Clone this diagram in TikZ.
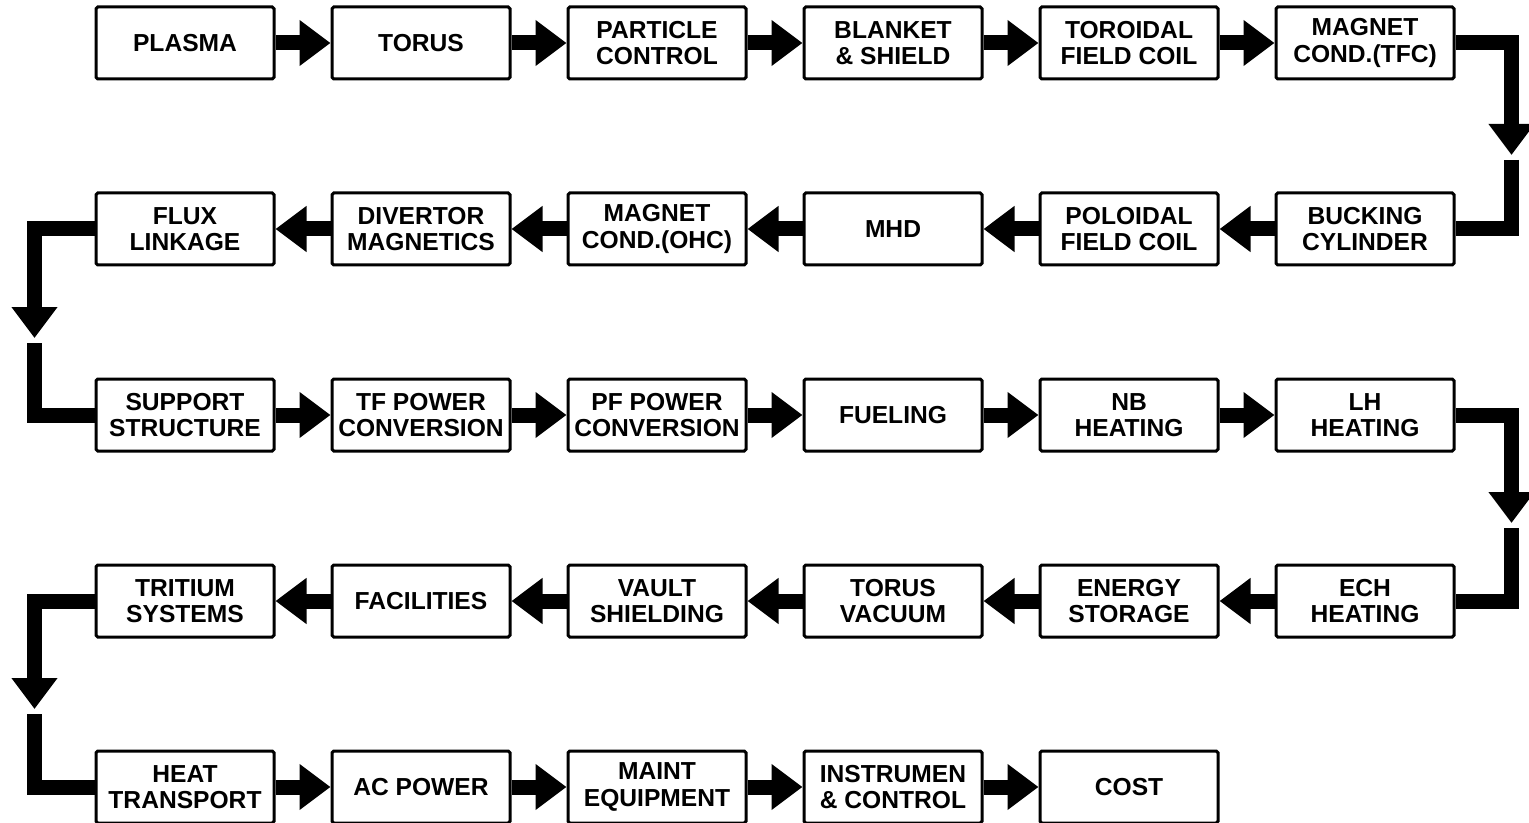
\documentclass[tikz,border=0pt]{standalone}
\usepackage{fontspec}
\newfontfamily\blockfont{Liberation Sans}
\usetikzlibrary{arrows.meta,positioning}

\begin{document}
\begin{tikzpicture}[->, >={Triangle[length=0.62cm, width=0.88cm]}, node distance=2.22cm and 1.10cm]
        \tikzstyle{block}=[draw=black, line width=0.06cm, rounded corners=1pt, minimum width=3.56cm, minimum height=1.44cm, inner sep=1pt, align=center, font=\blockfont\bfseries\fontsize{14pt}{15pt}\selectfont]
        \tikzstyle{flow}=[line width=0.3cm]
        \useasboundingbox (0,0) rectangle (30.58,-16.46);
        % row 1, left to right
        \node[block] (plasma) at (3.70,-0.86) {PLASMA};
        \node[block] (torus)    [right=of plasma]   {TORUS};
        \node[block] (particle) [right=of torus]    {PARTICLE\\CONTROL};
        \node[block] (blanket)  [right=of particle] {BLANKET\\\& SHIELD};
        \node[block] (tfcoil)   [right=of blanket]  {TOROIDAL\\FIELD COIL};
        \node[block] (magtfc)   [right=of tfcoil]   {MAGNET\\COND.(TFC)};
        % row 2, right to left
        \node[block] (bucking)  [below=of magtfc]   {BUCKING\\CYLINDER};
        \node[block] (pfcoil)   [left=of bucking]   {POLOIDAL\\FIELD COIL};
        \node[block] (mhd)      [left=of pfcoil]    {MHD};
        \node[block] (magohc)   [left=of mhd]       {MAGNET\\COND.(OHC)};
        \node[block] (divertor) [left=of magohc]    {DIVERTOR\\MAGNETICS};
        \node[block] (flux)     [left=of divertor]  {FLUX\\LINKAGE};
        % row 3, left to right
        \node[block] (support)  [below=of flux]     {SUPPORT\\STRUCTURE};
        \node[block] (tfpower)  [right=of support]  {TF POWER\\CONVERSION};
        \node[block] (pfpower)  [right=of tfpower]  {PF POWER\\CONVERSION};
        \node[block] (fueling)  [right=of pfpower]  {FUELING};
        \node[block] (nbheat)   [right=of fueling]  {NB\\HEATING};
        \node[block] (lhheat)   [right=of nbheat]   {LH\\HEATING};
        % row 4, right to left
        \node[block] (echheat)  [below=of lhheat]   {ECH\\HEATING};
        \node[block] (energy)   [left=of echheat]   {ENERGY\\STORAGE};
        \node[block] (vacuum)   [left=of energy]    {TORUS\\VACUUM};
        \node[block] (vault)    [left=of vacuum]    {VAULT\\SHIELDING};
        \node[block] (facil)    [left=of vault]     {FACILITIES};
        \node[block] (tritium)  [left=of facil]     {TRITIUM\\SYSTEMS};
        % row 5, left to right
        \node[block] (heat)     [below=of tritium]  {HEAT\\TRANSPORT};
        \node[block] (acpower)  [right=of heat]     {AC POWER};
        \node[block] (maint)    [right=of acpower]  {MAINT\\EQUIPMENT};
        \node[block] (instr)    [right=of maint]    {INSTRUMEN\\\& CONTROL};
        \node[block] (cost)     [right=of instr]    {COST};
        \path
        (plasma)   edge[flow] (torus)
        (torus)    edge[flow] (particle)
        (particle) edge[flow] (blanket)
        (blanket)  edge[flow] (tfcoil)
        (tfcoil)   edge[flow] (magtfc)
        (bucking)  edge[flow] (pfcoil)
        (pfcoil)   edge[flow] (mhd)
        (mhd)      edge[flow] (magohc)
        (magohc)   edge[flow] (divertor)
        (divertor) edge[flow] (flux)
        (support)  edge[flow] (tfpower)
        (tfpower)  edge[flow] (pfpower)
        (pfpower)  edge[flow] (fueling)
        (fueling)  edge[flow] (nbheat)
        (nbheat)   edge[flow] (lhheat)
        (echheat)  edge[flow] (energy)
        (energy)   edge[flow] (vacuum)
        (vacuum)   edge[flow] (vault)
        (vault)    edge[flow] (facil)
        (facil)    edge[flow] (tritium)
        (heat)     edge[flow] (acpower)
        (acpower)  edge[flow] (maint)
        (maint)    edge[flow] (instr)
        (instr)    edge[flow] (cost);
        % row to row turns
        \coordinate (drop1) at ([xshift=1.12cm, yshift=-2.24cm]magtfc.east);
        \coordinate (drop2) at ([xshift=-1.20cm, yshift=-2.18cm]flux.west);
        \coordinate (drop3) at ([xshift=1.12cm, yshift=-2.16cm]lhheat.east);
        \coordinate (drop4) at ([xshift=-1.20cm, yshift=-2.16cm]tritium.west);
        \draw[flow] (magtfc.east) -| (drop1);
        \draw[flow,-] ([yshift=-0.1cm]drop1) |- (bucking.east);
        \draw[flow] (flux.west) -| (drop2);
        \draw[flow,-] ([yshift=-0.1cm]drop2) |- (support.west);
        \draw[flow] (lhheat.east) -| (drop3);
        \draw[flow,-] ([yshift=-0.1cm]drop3) |- (echheat.east);
        \draw[flow] (tritium.west) -| (drop4);
        \draw[flow,-] ([yshift=-0.1cm]drop4) |- (heat.west);
\end{tikzpicture}
\end{document}
